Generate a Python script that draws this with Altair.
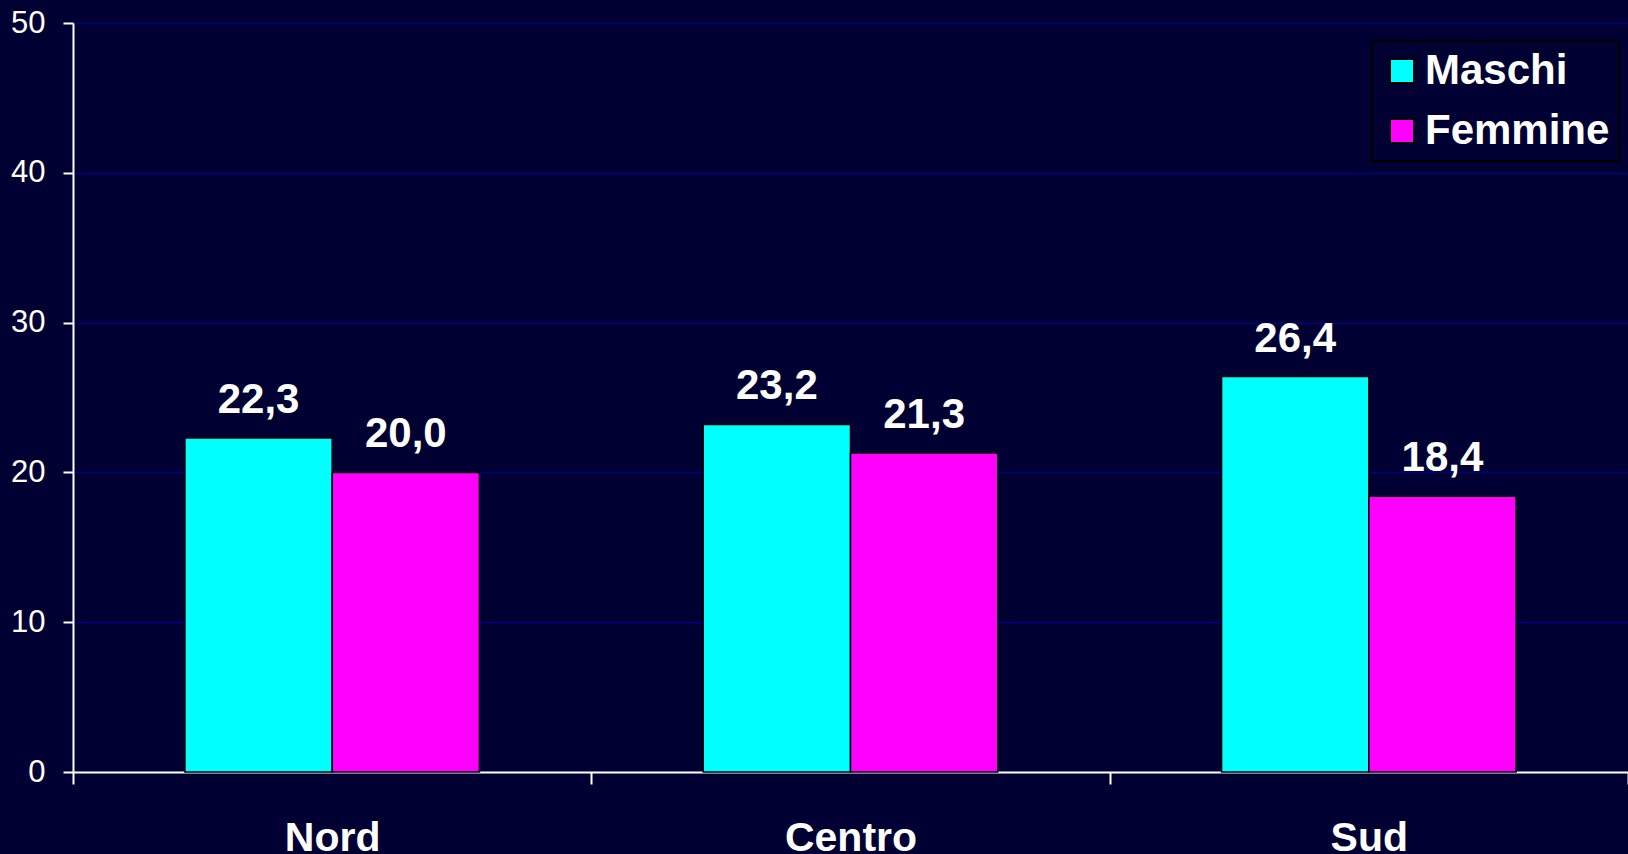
import altair as alt
import pandas as pd

regions = ["Nord", "Centro", "Sud"]
series = ["Maschi", "Femmine"]
maschi = [22.3, 23.2, 26.4]
femmine = [20.0, 21.3, 18.4]
colors = ["#00FFFF", "#FF00FF"]
y_ticks = [0, 10, 20, 30, 40, 50]

rows = []
for i, r in enumerate(regions):
    rows.append({"regione": r, "sesso": "Maschi", "valore": maschi[i]})
    rows.append({"regione": r, "sesso": "Femmine", "valore": femmine[i]})
df = pd.DataFrame(rows)

FONT = "Liberation Sans"

base = alt.Chart(df).encode(
    x=alt.X(
        "regione:N",
        sort=regions,
        scale=alt.Scale(paddingInner=0, paddingOuter=0),
        axis=alt.Axis(
            title=None,
            labelAngle=0,
            tickBand="extent",
            tickSize=12,
            tickColor="white",
            tickWidth=2,
            domainColor="white",
            domainWidth=2,
            labelPadding=34,
            labelFontSize=41,
            labelFontWeight="bold",
            labelColor="white",
            labelFont=FONT,
            grid=False,
        ),
    ),
    xOffset=alt.XOffset("sesso:N", sort=series, scale=alt.Scale(paddingInner=0, paddingOuter=0.76)),
    y=alt.Y(
        "valore:Q",
        scale=alt.Scale(domain=[0, 50], nice=False),
        axis=alt.Axis(
            title=None,
            values=y_ticks,
            grid=True,
            gridColor="#000080",
            gridWidth=1.5,
            tickSize=10,
            tickColor="white",
            tickWidth=2,
            domainColor="white",
            domainWidth=2,
            labelPadding=18,
            labelFontSize=31,
            labelColor="white",
            labelFont=FONT,
        ),
    ),
)

bars = base.mark_bar(stroke="black", strokeWidth=1.5, opacity=1).encode(
    color=alt.Color(
        "sesso:N",
        sort=series,
        scale=alt.Scale(domain=series, range=colors),
        legend=alt.Legend(
            title=None,
            orient="none",
            legendX=1299,
            legendY=18,
            symbolType="square",
            symbolSize=576,
            symbolStrokeColor="black",
            symbolStrokeWidth=2,
            symbolOpacity=1,
            labelFontSize=42,
            labelFontWeight="bold",
            labelColor="white",
            labelFont=FONT,
            labelOffset=2,
            labelLimit=400,
            rowPadding=18,
            padding=9,
            fillColor="#000033",
            strokeColor="black",
        ),
    )
)

labels = base.mark_text(
    dy=-25,
    baseline="alphabetic",
    fontSize=42,
    fontWeight="bold",
    color="white",
    font=FONT,
).transform_calculate(
    label="replace(format(datum.valore, '.1f'), '.', ',')"
).encode(text="label:N")

chart = (
    alt.layer(bars, labels)
    .properties(
        width=1555,
        height=749,
        padding={"left": 73, "top": 23, "right": 0, "bottom": 82},
        autosize=alt.AutoSizeParams(type="none"),
        background="#000033",
    )
    .configure_view(stroke=None)
    .configure_legend(strokeWidth=2)
)

chart.save("out.html", embed_options={"renderer": "svg", "actions": False})
